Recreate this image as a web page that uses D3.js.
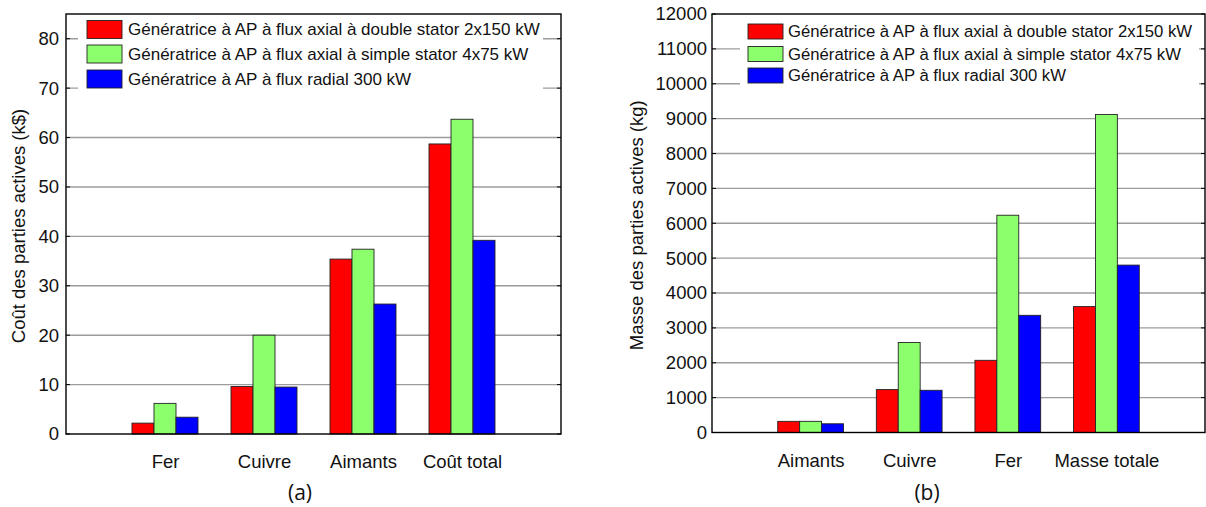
<!DOCTYPE html>
<html>
<head>
<meta charset="utf-8">
<script src="https://cdn.jsdelivr.net/npm/d3@7"></script>
<style>
  html, body { margin: 0; padding: 0; background: #fff; }
  svg { display: block; }
  text { font-family: "Liberation Sans", Arial, sans-serif; fill: #111; }
</style>
</head>
<body>
<svg id="chart" width="1206" height="507"></svg>
<script>
// ---------- data ----------
const seriesNames = [
  "Génératrice à AP à flux axial à double stator 2x150 kW",
  "Génératrice à AP à flux axial à simple stator 4x75 kW",
  "Génératrice à AP à flux radial 300 kW"
];
const seriesColors = ["#ff0000", "#8cff6c", "#0000ff"];

const categoriesA = ["Fer", "Cuivre", "Aimants", "Coût total"];
const costDouble = [2.2, 9.6, 35.4, 58.7];
const costSimple = [6.2, 20.0, 37.4, 63.7];
const costRadial = [3.4, 9.5, 26.3, 39.2];
const ticksA = [0, 10, 20, 30, 40, 50, 60, 70, 80];
const yLabelA = "Coût des parties actives (k$)";
const captionA = "(a)";

const categoriesB = ["Aimants", "Cuivre", "Fer", "Masse totale"];
const massDouble = [320, 1230, 2070, 3610];
const massSimple = [320, 2580, 6230, 9120];
const massRadial = [250, 1210, 3360, 4800];
const ticksB = [0, 1000, 2000, 3000, 4000, 5000, 6000, 7000, 8000, 9000, 10000, 11000, 12000];
const yLabelB = "Masse des parties actives (kg)";
const captionB = "(b)";

// ---------- drawing ----------
const svg = d3.select("#chart");
const FS = 18.5;

function drawPanel(cfg) {
  const g = svg.append("g");
  const x = d3.scaleLinear().domain([0, cfg.categories.length + 1]).range([cfg.left, cfg.right]);
  const y = d3.scaleLinear().domain(cfg.yDomain).range([cfg.bottom, cfg.top]);
  const inner = d3.scaleBand().domain(d3.range(cfg.series.length)).range([-1/3, 1/3]).paddingInner(0);

  // gridlines
  g.append("g").selectAll("line").data(cfg.ticks.filter(t => t > 0 && t < cfg.yDomain[1])).join("line")
    .attr("x1", cfg.left).attr("x2", cfg.right)
    .attr("y1", d => y(d)).attr("y2", d => y(d))
    .attr("stroke", "#9c9c9c").attr("stroke-width", 1.4);

  // bars
  cfg.series.forEach((vals, si) => {
    g.append("g").selectAll("rect").data(vals).join("rect")
      .attr("x", (d, i) => x(i + 1 + inner(si)))
      .attr("width", x(inner.bandwidth()) - x(0))
      .attr("y", d => y(d))
      .attr("height", d => y(0) - y(d))
      .attr("fill", seriesColors[si])
      .attr("stroke", "#222").attr("stroke-width", 0.9);
  });

  // legend (opaque white box)
  const lg = g.append("g");
  lg.append("rect").attr("x", cfg.legend.x).attr("y", cfg.legend.y)
    .attr("width", cfg.legend.w).attr("height", cfg.legend.h).attr("fill", "#fff");
  seriesNames.forEach((name, si) => {
    const cy = cfg.legend.rowY[si];
    lg.append("rect").attr("x", cfg.legend.sx).attr("y", cy - cfg.legend.sh / 2)
      .attr("width", cfg.legend.sw).attr("height", cfg.legend.sh)
      .attr("fill", seriesColors[si]).attr("stroke", "#222").attr("stroke-width", 0.9);
    lg.append("text").attr("x", cfg.legend.tx).attr("y", cy).attr("dy", "0.35em")
      .attr("font-size", cfg.legend.fs).text(name);
  });

  // axes box
  g.append("rect").attr("x", cfg.left).attr("y", cfg.top)
    .attr("width", cfg.right - cfg.left).attr("height", cfg.bottom - cfg.top)
    .attr("fill", "none").attr("stroke", "#000").attr("stroke-width", 1.4);

  // y axis via d3 axis
  const yAxis = d3.axisLeft(y).tickValues(cfg.ticks).tickSize(0).tickPadding(cfg.tickPad)
    .tickFormat(d3.format("d"));
  const ya = g.append("g").attr("transform", `translate(${cfg.left},0)`).call(yAxis);
  ya.select(".domain").remove();
  ya.selectAll("text").attr("font-size", FS).attr("font-family", "Liberation Sans, Arial, sans-serif")
    .attr("fill", "#111");

  // inner tick marks left & right
  g.append("g").selectAll("line").data(cfg.ticks).join("line")
    .attr("x1", cfg.left).attr("x2", cfg.left + 4)
    .attr("y1", d => y(d)).attr("y2", d => y(d)).attr("stroke", "#000");
  g.append("g").selectAll("line").data(cfg.ticks).join("line")
    .attr("x1", cfg.right - 4).attr("x2", cfg.right)
    .attr("y1", d => y(d)).attr("y2", d => y(d)).attr("stroke", "#000");

  // x categories via d3 axis
  const xAxis = d3.axisBottom(x).tickValues(d3.range(1, cfg.categories.length + 1))
    .tickSize(0).tickPadding(cfg.catPad).tickFormat(d => cfg.categories[d - 1]);
  const xa = g.append("g").attr("transform", `translate(0,${cfg.bottom})`).call(xAxis);
  xa.select(".domain").remove();
  xa.selectAll("text").attr("font-size", FS).attr("font-family", "Liberation Sans, Arial, sans-serif")
    .attr("fill", "#111");

  // y label
  g.append("text")
    .attr("transform", `translate(${cfg.yLabelX},${(cfg.top + cfg.bottom) / 2 + 2}) rotate(-90)`)
    .attr("text-anchor", "middle").attr("dy", "0.35em").attr("font-size", FS)
    .text(cfg.yLabel);

  // caption
  g.append("text").attr("x", cfg.captionX).attr("y", 493).attr("dy", "0.35em")
    .attr("text-anchor", "middle").attr("font-size", 21)
    .style("font-family", "'Open Sans', 'Noto Sans', sans-serif")
    .text(cfg.caption);
}

drawPanel({
  categories: categoriesA,
  series: [costDouble, costSimple, costRadial],
  ticks: ticksA, yDomain: [0, 85],
  left: 66, right: 561, top: 14, bottom: 434,
  tickPad: 7, catPad: 21,
  yLabel: yLabelA, yLabelX: 19, caption: captionA, captionX: 300,
  legend: { x: 78, y: 15, w: 465, h: 82, sx: 87, sw: 35, sh: 18, tx: 128,
            rowY: [29.5, 54, 79], fs: 17 }
});

drawPanel({
  categories: categoriesB,
  series: [massDouble, massSimple, massRadial],
  ticks: ticksB, yDomain: [0, 12000],
  left: 712, right: 1205, top: 14, bottom: 432.5,
  tickPad: 5, catPad: 21,
  yLabel: yLabelB, yLabelX: 637, caption: captionB, captionX: 927,
  legend: { x: 740, y: 15, w: 459, h: 76, sx: 748, sw: 35, sh: 15, tx: 788,
            rowY: [31.5, 54, 75.5], fs: 16.7 }
});
</script>
</body>
</html>
